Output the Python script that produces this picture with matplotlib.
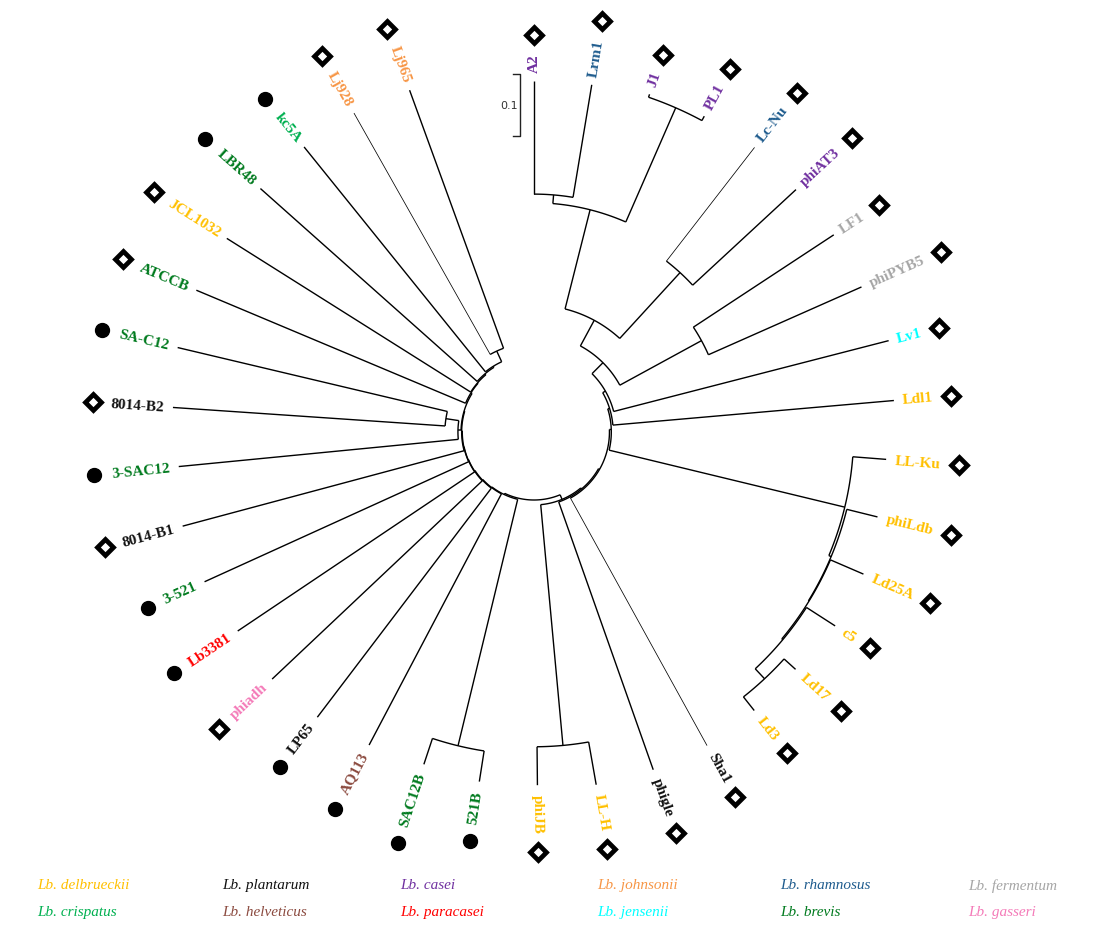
import numpy as np
import matplotlib.pyplot as plt
from matplotlib.textpath import TextPath
from matplotlib.font_manager import FontProperties

# leaves, clockwise from the top of the circle
leaf_names = ['A2', 'Lrm1', 'J1', 'PL1', 'Lc-Nu', 'phiAT3', 'LF1', 'phiPYB5', 'Lv1', 'Ldl1',
              'LL-Ku', 'phiLdb', 'Ld25A', 'c5', 'Ld17', 'Ld3', 'Sha1', 'phigle', 'LL-H', 'phiJB',
              '521B', 'SAC12B', 'AQ113', 'LP65', 'phiadh', 'Lb3381', '3-521', '8014-B1', '3-SAC12',
              '8014-B2', 'SA-C12', 'ATCCB', 'JCL1032', 'LBR48', 'kc5A', 'Lj928', 'Lj965']
leaf_species = ['casei', 'rhamnosus', 'casei', 'casei', 'rhamnosus', 'casei', 'fermentum', 'fermentum',
                'jensenii', 'delbrueckii', 'delbrueckii', 'delbrueckii', 'delbrueckii', 'delbrueckii',
                'delbrueckii', 'delbrueckii', 'plantarum', 'plantarum', 'delbrueckii', 'delbrueckii',
                'brevis', 'brevis', 'helveticus', 'plantarum', 'gasseri', 'paracasei', 'brevis',
                'plantarum', 'brevis', 'plantarum', 'brevis', 'brevis', 'delbrueckii', 'brevis',
                'crispatus', 'johnsonii', 'johnsonii']
# 'D' = diamond, 'o' = filled circle
leaf_marker = ['D', 'D', 'D', 'D', 'D', 'D', 'D', 'D', 'D', 'D',
               'D', 'D', 'D', 'D', 'D', 'D', 'D', 'D', 'D', 'D',
               'o', 'o', 'o', 'o', 'D', 'o', 'o', 'D', 'o',
               'D', 'o', 'D', 'D', 'o', 'o', 'D', 'D']
# distance from root (substitutions per site)
leaf_depth = [0.456, 0.458, 0.466, 0.469, 0.471, 0.466, 0.469, 0.468, 0.481, 0.473,
              0.460, 0.461, 0.469, 0.468, 0.460, 0.463, 0.468, 0.468, 0.468, 0.460,
              0.461, 0.455, 0.461, 0.468, 0.471, 0.466, 0.474, 0.477, 0.466,
              0.474, 0.481, 0.481, 0.476, 0.481, 0.481, 0.481, 0.477]
thin_branches = ['Lc-Nu', 'Lj928', 'Sha1']

# internal nodes (children listed before parents)
node_names = ['a2_lrm', 'j1_pl1', 'casei4', 'lc_at3', 'casei6', 'lf1_pyb5', 'casei8', 'n_lv1', 'n_ldl1',
              'ld17_ld3', 'd_c5', 'd_25a', 'd_ldb', 'delb', 'r1', 'llh_jb', 'r2', 'r3', 'r4',
              'b521_sac', 'lj', 'l_kc5a', 'l_lbr', 'l_jcl', 'l_atcc', 'b2_sac', 'sacgrp', 'l_sac',
              'l_b1', 'l_3521', 'l_3381', 'l_adh', 'l_lp65', 'l_aq', 'l_521', 'root']
node_children = [('A2', 'Lrm1'), ('J1', 'PL1'), ('a2_lrm', 'j1_pl1'), ('Lc-Nu', 'phiAT3'),
                 ('casei4', 'lc_at3'), ('LF1', 'phiPYB5'), ('casei6', 'lf1_pyb5'), ('casei8', 'Lv1'),
                 ('n_lv1', 'Ldl1'), ('Ld17', 'Ld3'), ('c5', 'ld17_ld3'), ('Ld25A', 'd_c5'),
                 ('phiLdb', 'd_25a'), ('LL-Ku', 'd_ldb'), ('n_ldl1', 'delb'), ('LL-H', 'phiJB'),
                 ('r1', 'Sha1'), ('r2', 'phigle'), ('r3', 'llh_jb'),
                 ('521B', 'SAC12B'), ('Lj928', 'Lj965'), ('kc5A', 'lj'), ('LBR48', 'l_kc5a'),
                 ('JCL1032', 'l_lbr'), ('ATCCB', 'l_jcl'), ('8014-B2', 'SA-C12'), ('3-SAC12', 'b2_sac'),
                 ('sacgrp', 'l_atcc'), ('8014-B1', 'l_sac'), ('3-521', 'l_b1'), ('Lb3381', 'l_3521'),
                 ('phiadh', 'l_3381'), ('LP65', 'l_adh'), ('AQ113', 'l_lp65'), ('b521_sac', 'l_aq'),
                 ('r4', 'l_521')]
node_depth = [0.274, 0.461, 0.260, 0.239, 0.095, 0.198, 0.048, 0.023, 0.018,
              0.435, 0.413, 0.411, 0.410, 0.406, 0.015, 0.398, 0.012, 0.010, 0.008,
              0.411, 0.034, 0.015, 0.013, 0.011, 0.010, 0.034, 0.013, 0.008,
              0.007, 0.006, 0.0056, 0.005, 0.004, 0.003, 0.002, 0.0]

species_names = ['delbrueckii', 'plantarum', 'casei', 'johnsonii', 'rhamnosus', 'fermentum',
                 'crispatus', 'helveticus', 'paracasei', 'jensenii', 'brevis', 'gasseri']
species_colors = ['#FFC000', '#111111', '#7030A0', '#F79646', '#1F5C8E', '#A6A6A6',
                  '#00B050', '#8C4B40', '#FF0000', '#00FFFF', '#007A1E', '#F47AB8']
color_of = dict(zip(species_names, species_colors))

R0 = 68.0            # radius of the root, px
PX_PER_UNIT = 620.0  # 0.1 on the scale bar = 62 px
ANGLE_STEP = 340.0 / (len(leaf_names) - 1)

depth = dict(zip(leaf_names, leaf_depth))
depth.update(zip(node_names, node_depth))
angle = {n: i * ANGLE_STEP for i, n in enumerate(leaf_names)}
for n, ch in zip(node_names, node_children):
    angle[n] = np.mean([angle[c] for c in ch])


def rad(n):
    return R0 + depth[n] * PX_PER_UNIT


def xy(r, th):
    t = np.radians(th)
    return r * np.sin(t), r * np.cos(t)


fig = plt.figure(figsize=(10.94, 9.28), dpi=100)
ax = fig.add_axes([0, 0, 1, 1])
ax.set_xlim(-534, 560)
ax.set_ylim(-495, 433)
ax.axis('off')

# branches
for n, ch in zip(node_names, node_children):
    r = rad(n)
    a = [angle[c] for c in ch]
    th = np.linspace(min(a), max(a), 80)
    ax.plot(*xy(r, th), color='black', lw=1.0, solid_capstyle='butt')
    for c in ch:
        lw = 0.55 if c in thin_branches else 1.0
        x0, y0 = xy(r, angle[c])
        x1, y1 = xy(rad(c), angle[c])
        ax.plot([x0, x1], [y0, y1], color='black', lw=lw, solid_capstyle='butt')

# labels and markers
fp = FontProperties(family='Liberation Serif', weight='bold', size=11)
for n, sp, mk in zip(leaf_names, leaf_species, leaf_marker):
    th = angle[n]
    rl = rad(n) + 9
    if th < 180:
        rot, ha = 90 - th, 'left'
    else:
        rot, ha = 270 - th, 'right'
    ax.text(*xy(rl, th), n, rotation=rot, rotation_mode='anchor', ha=ha, va='center',
            color=color_of[sp], fontproperties=fp)
    w = TextPath((0, 0), n, prop=fp).get_extents().width * 100 / 72
    mx, my = xy(rl + w + 19, th)
    if mk == 'D':
        ax.plot(mx, my, marker='D', ms=8, mfc='white', mec='black', mew=3.4)
    else:
        ax.plot(mx, my, marker='o', ms=10, mfc='black', mec='black')

# scale bar
bar = 0.1 * PX_PER_UNIT
bx, btop = -14, 358
ax.plot([bx - 7, bx, bx, bx - 7], [btop, btop, btop - bar, btop - bar], color='#222222', lw=1.0)
ax.text(bx - 11, btop - bar / 2, '0.1', ha='center', va='center', fontsize=8,
        color='#333333', family='DejaVu Sans')

# legend
leg_x = [37, 222, 400, 597, 780, 968]
for i, (sp, col) in enumerate(zip(species_names, species_colors)):
    row, colno = divmod(i, 6)
    fig.text(leg_x[colno] / 1094, 1 - (886 + 27 * row) / 928, 'Lb. ' + sp, color=col,
             family='Liberation Serif', style='italic', fontsize=11, va='center')

plt.savefig('out.png', dpi=100)
